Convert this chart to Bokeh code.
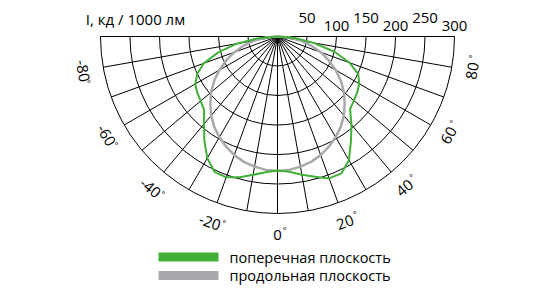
import numpy as np
from bokeh.plotting import figure
from bokeh.models import Range1d
from bokeh.core.properties import value
from bokeh.embed import file_html
from bokeh.resources import INLINE

# ---- data -------------------------------------------------------------
angles_deg = list(range(-90, 95, 5))
green_cd = [0, 32, 70, 104, 133, 150, 161, 166, 170, 176, 194, 216, 238, 253, 254, 247, 238, 231,
            227,
            230, 238, 246, 256, 256, 242, 217, 195, 174, 169, 165, 160, 151, 130, 100, 62, 30, 0]
gray_cd = [0, 20, 40, 59, 78, 96, 114, 131, 147, 161, 175, 187, 197, 206, 214, 220, 224, 227,
           228,
           227, 224, 220, 214, 206, 197, 187, 175, 161, 147, 131, 114, 96, 78, 59, 40, 20, 0]
ring_values = [50, 100, 150, 200, 250, 300]
ring_labels = ["50", "100", "150", "200", "250", "300"]
spoke_angles = list(range(-90, 100, 10))
angle_label_values = [-80, -60, -40, -20, 0, 20, 40, 60, 80]
angle_label_texts = ["-80", "-60", "-40", "-20", "0", "20", "40", "60", "80"]
title_text = "I, кд / 1000 лм"
legend_labels = ["поперечная плоскость", "продольная плоскость"]

GREEN = "#41b038"
GRAY = "#a8a9ad"
FONT = "Open Sans"

# ---- layout -----------------------------------------------------------
W, H = 540, 300
cx, cy = 277, 36
S = 177 / 300.0  # px per cd

p = figure(width=W, height=H, x_range=Range1d(-cx / S, (W - cx) / S),
           y_range=Range1d(-(H - cy) / S, cy / S),
           output_backend="svg", toolbar_location=None, min_border=0,
           x_axis_location=None, y_axis_location=None)
p.grid.visible = False
p.outline_line_color = None
p.background_fill_color = "white"

# grid rings
rmax = ring_values[-1]
p.arc(x=[0] * len(ring_values), y=[0] * len(ring_values), radius=ring_values,
      start_angle=np.pi, end_angle=2 * np.pi, line_color="black", line_width=1)
# spokes
sa = np.radians(spoke_angles)
p.segment(x0=[0] * len(sa), y0=[0] * len(sa), x1=rmax * np.sin(sa), y1=-rmax * np.cos(sa),
          line_color="black", line_width=1)

# curves
th = np.radians(angles_deg)
g = np.array(green_cd, float)
q = np.array(gray_cd, float)
p.line(q * np.sin(th), -q * np.cos(th), line_color=GRAY, line_width=2.5)
p.line(g * np.sin(th), -g * np.cos(th), line_color=GREEN, line_width=2)

# ring labels
up = (36 - 17.5) / S
lo = (36 - 25) / S
p.text(x=ring_values, y=[up if i % 2 == 0 else lo for i in range(len(ring_values))],
       text=ring_labels, text_align="center", text_baseline="middle",
       text_font=value(FONT), text_font_size="15px", text_color="black")

# title
p.text(x=[(135 - cx) / S], y=[(36 - 18) / S], text=[title_text], text_align="center",
       text_baseline="middle", text_font=value(FONT), text_font_size="15px",
       text_color="black")

# angle labels
rl = 198 / S
al = np.radians(angle_label_values)
lx = rl * np.sin(al)
ly = -rl * np.cos(al)
p.text(x=lx, y=ly, text=angle_label_texts, angle=al, text_align="center",
       text_baseline="middle", text_font=value(FONT), text_font_size="15px",
       text_color="black")
# degree signs
dx, dy = [], []
for a, t in zip(al, angle_label_texts):
    w = sum(5 if c == "-" else 8.5 for c in t)
    along = w / 2 + 3
    perp = 4
    ox = along * np.cos(a) - perp * np.sin(a)
    oy = along * np.sin(a) + perp * np.cos(a)
    dx.append(ox / S)
    dy.append(oy / S)
p.text(x=lx + np.array(dx), y=ly + np.array(dy), text=["°"] * len(al),
       text_align="center", text_baseline="middle", text_font=value(FONT),
       text_font_size="9px", text_color="black")

# legend
ys = [(36 - 256.5) / S, (36 - 275) / S]
p.segment(x0=[(158 - cx) / S] * 2, y0=ys, x1=[(218 - cx) / S] * 2, y1=ys,
          line_color=[GREEN, GRAY], line_width=9)
p.text(x=[(229 - cx) / S] * 2, y=ys, text=legend_labels, text_align="left",
       text_baseline="middle", text_font=value(FONT), text_font_size="14.5px",
       text_color="black")

open("out.html", "w").write(file_html(p, INLINE))
